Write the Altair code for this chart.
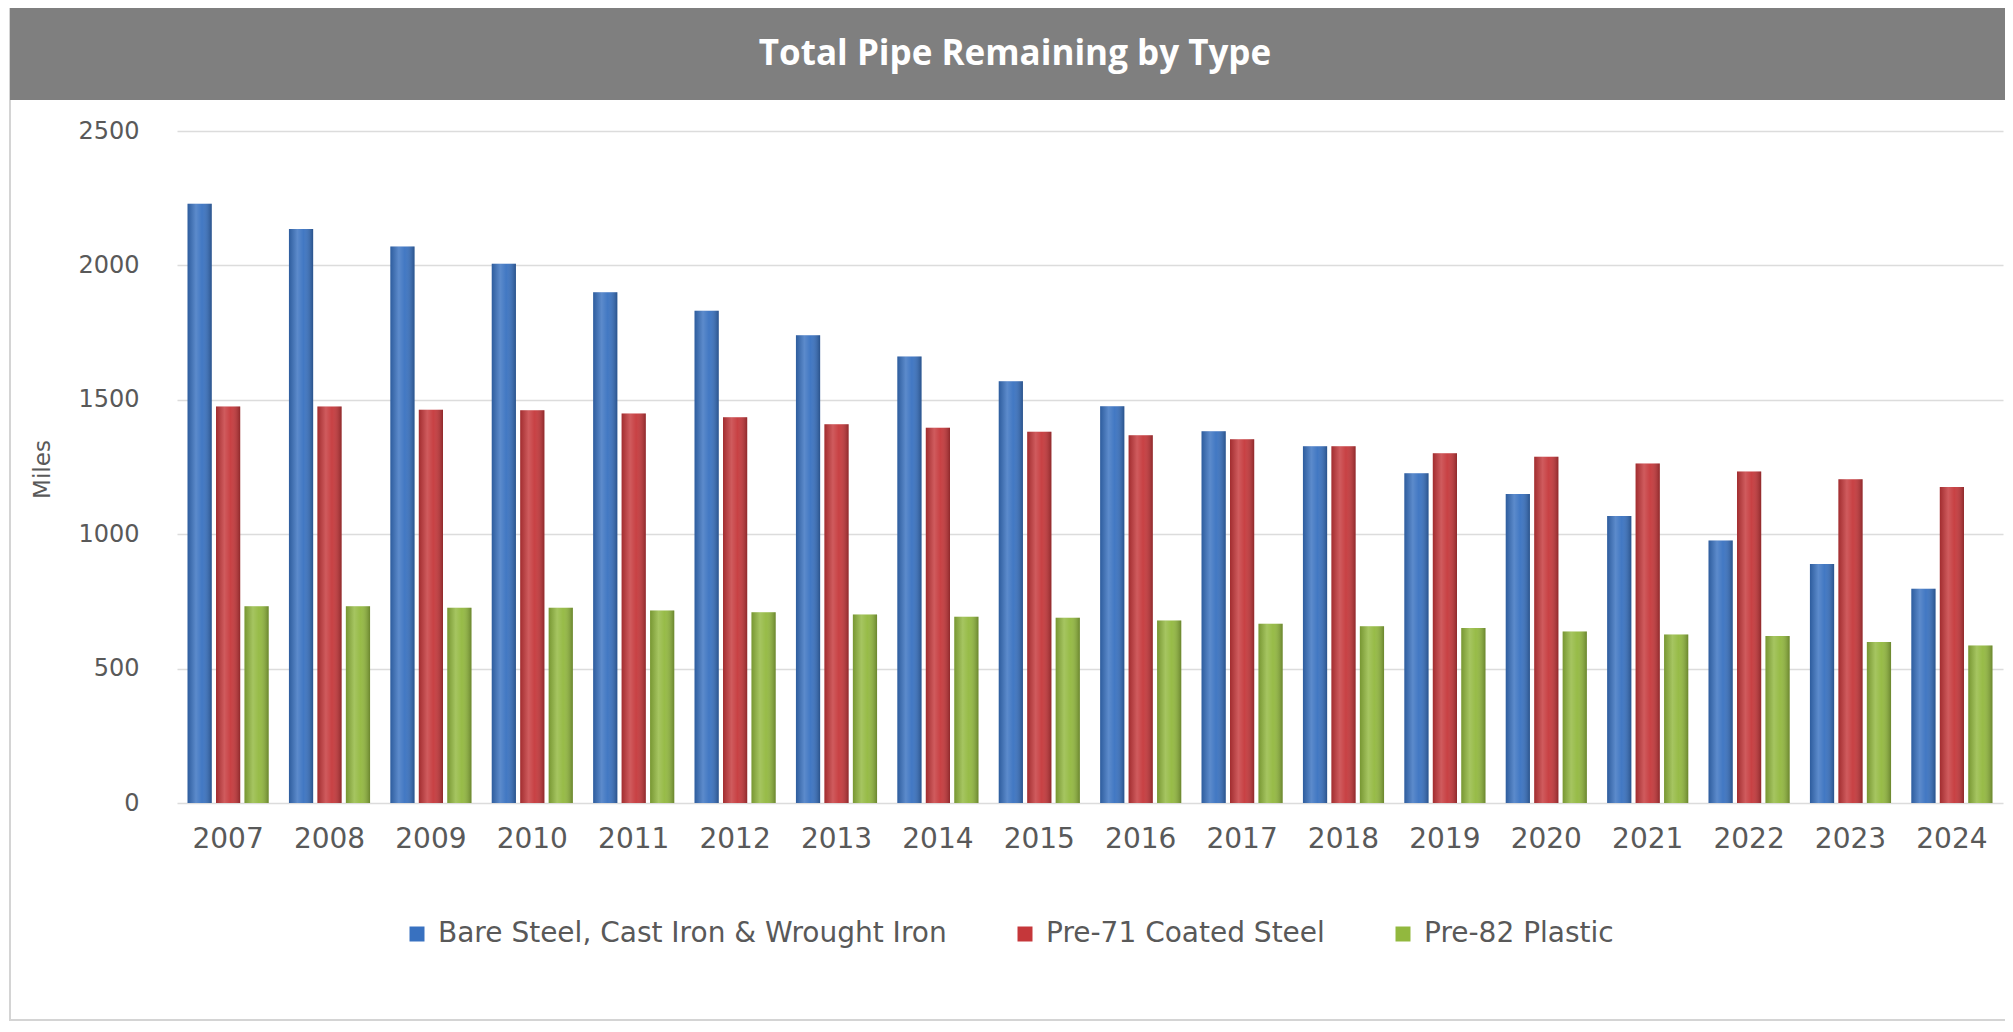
import altair as alt
import pandas as pd

title_text = "Total Pipe Remaining by Type"
years = [str(y) for y in range(2007, 2025)]
series_names = ["Bare Steel, Cast Iron & Wrought Iron", "Pre-71 Coated Steel", "Pre-82 Plastic"]
bare_steel = [2229, 2135, 2070, 2006, 1900, 1831, 1740, 1661, 1569, 1476, 1383, 1327,
              1227, 1150, 1068, 977, 889, 797]
coated_steel = [1475, 1475, 1463, 1461, 1449, 1435, 1409, 1396, 1381, 1368, 1353, 1327,
                1301, 1288, 1263, 1233, 1204, 1176]
plastic = [732, 732, 726, 726, 716, 710, 701, 693, 689, 679, 667, 658,
           651, 638, 627, 621, 599, 586]
colors = ["#3871c0", "#c5373a", "#92b83e"]
y_ticks = [0, 500, 1000, 1500, 2000, 2500]

rows = []
for name, vals in zip(series_names, [bare_steel, coated_steel, plastic]):
    for yr, v in zip(years, vals):
        rows.append({"year": yr, "series": name, "miles": v})
df = pd.DataFrame(rows)

W, H = 1826, 672
label_color = "#595959"

x_enc = alt.X("year:N", sort=years,
              scale=alt.Scale(paddingInner=0.2, paddingOuter=0.104),
              axis=alt.Axis(title=None, labelAngle=0, domain=False, ticks=False,
                            labelPadding=22, labelFontSize=28, labelFont="DejaVu Sans",
                            labelColor=label_color, grid=False))
xo_enc = alt.XOffset("series:N", sort=series_names,
                     scale=alt.Scale(paddingInner=0.15, paddingOuter=0))
y_enc = alt.Y("miles:Q", scale=alt.Scale(domain=[0, 2500], nice=False),
              axis=alt.Axis(values=y_ticks, format="d", title="Miles", grid=True,
                            gridColor="#dcdcdc", gridWidth=1.5, domain=False, ticks=False,
                            labelPadding=38, labelFontSize=24, labelFont="DejaVu Sans",
                            labelColor=label_color, titleFontSize=23, titleFont="DejaVu Sans",
                            titleColor=label_color, titleFontWeight="normal", titleAngle=270,
                            titleX=-135, titleY=338, titleAlign="center",
                            titleBaseline="middle"))

one = pd.DataFrame({"t": [title_text]})

frame = alt.Chart(one).mark_rect(filled=False, stroke="#d4d4d4", strokeWidth=2).encode(
    x=alt.value(-167), x2=alt.value(1840), y=alt.value(-126), y2=alt.value(889))
bar_bg = alt.Chart(one).mark_rect(fill="#7f7f7f").encode(
    x=alt.value(-167), x2=alt.value(1840), y=alt.value(-126), y2=alt.value(-31))
title_mark = alt.Chart(one).mark_text(color="white", font="Open Sans", fontWeight="bold",
                                      fontSize=35, align="center", baseline="middle").encode(
    x=alt.value(838), y=alt.value(-77), text="t:N")

bars = alt.Chart(df).mark_bar().encode(
    x=x_enc, xOffset=xo_enc, y=y_enc,
    color=alt.Color("series:N", sort=series_names,
                    scale=alt.Scale(domain=series_names, range=colors),
                    legend=alt.Legend(orient="none", legendX=226, legendY=789,
                                      direction="horizontal", columns=3, title=None,
                                      symbolType="square", symbolSize=225,
                                      symbolStrokeWidth=0, labelFontSize=28,
                                      labelFont="DejaVu Sans", labelColor=label_color,
                                      labelLimit=0, columnPadding=64, labelOffset=7)))

shade = alt.LinearGradient(
    gradient="linear", x1=0, y1=0, x2=1, y2=0,
    stops=[alt.GradientStop(color="rgba(0,0,0,0.18)", offset=0),
           alt.GradientStop(color="rgba(255,255,255,0.18)", offset=0.35),
           alt.GradientStop(color="rgba(255,255,255,0.05)", offset=0.6),
           alt.GradientStop(color="rgba(0,0,0,0.28)", offset=1)])
overlay = alt.Chart(df).mark_bar(fill=shade).encode(x=x_enc, xOffset=xo_enc, y=y_enc)

chart = alt.layer(frame, bar_bg, title_mark, bars, overlay).properties(
    width=W, height=H,
    autosize=alt.AutoSizeParams(type="none"),
    padding={"left": 169, "top": 123, "right": 2, "bottom": 221},
).configure_view(strokeWidth=0)

chart.save("out.html", embed_options={"renderer": "svg", "actions": False})
